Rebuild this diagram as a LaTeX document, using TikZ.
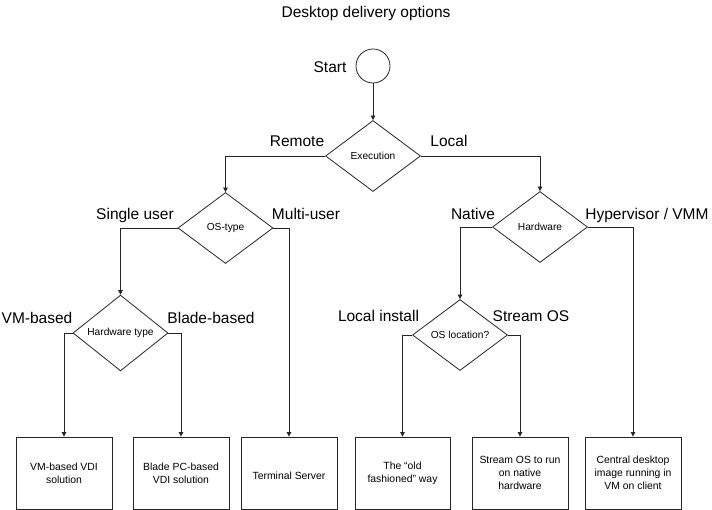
\documentclass[tikz,border=0pt]{standalone}
\usepackage{fontspec}
\setmainfont{Liberation Sans}
\usetikzlibrary{shapes.geometric,arrows.meta}
\begin{document}
\begin{tikzpicture}[x=1pt,y=-1pt,
  line/.style={draw=black!85,line width=0.8pt},
  arr/.style={line,-{Triangle[width=4.5pt,length=4.5pt]}},
  dia/.style={line,diamond,inner sep=0pt,minimum width=95pt,minimum height=71pt,font=\fontsize{10.2}{12}\selectfont},
  box/.style={line,rectangle,minimum width=96pt,minimum height=72pt,inner sep=0pt,align=center,font=\fontsize{10.4}{13}\selectfont},
  lbl/.style={anchor=base,font=\fontsize{15.5}{18}\selectfont,inner sep=0pt}]
\useasboundingbox[fill=white] (0,0) rectangle (712,510);
\node[lbl] (title) at (366,18) {Desktop delivery options};
\node[line,circle,minimum size=34pt,inner sep=0pt] (start) at (373,66) {};
\node[lbl] (startl) at (330,73) {Start};
\node[dia] (exec) at (373,156) {Execution};
\node[dia] (os) at (225.5,228) {OS-type};
\node[dia] (hw) at (540,227) {Hardware};
\node[dia] (hwt) at (120.5,333) {Hardware type};
\node[dia] (osl) at (460,335) {OS location?};
\node[box] (b1) at (64,473) {VM-based VDI\\solution};
\node[box] (b2) at (181,473) {Blade PC-based\\VDI solution};
\node[box] (b3) at (289,473) {\mbox{}\\Terminal Server};
\node[box,minimum width=95pt] (b4) at (402.5,473) {The ``old\\fashioned'' way};
\node[box] (b5) at (520,473) {Stream OS to run\\on native\\hardware};
\node[box] (b6) at (633,473) {Central desktop\\image running in\\VM on client};
\node[lbl] (lremote) at (297,147) {Remote};
\node[lbl] (llocal) at (449,147) {Local};
\node[lbl] (lsingle) at (135,220) {Single user};
\node[lbl] (lmulti) at (306,220) {Multi-user};
\node[lbl] (lnative) at (473,220) {Native};
\node[lbl] (lhyper) at (647,220) {Hypervisor / VMM};
\node[lbl] (lvm) at (37,324) {VM-based};
\node[lbl] (lblade) at (211,324) {Blade-based};
\node[lbl] (llocali) at (378.5,322) {Local install};
\node[lbl] (lstream) at (531,322) {Stream OS};
\draw[arr] (start.south) -- (exec.north);
\draw[arr] (exec.west) -| (os.north);
\draw[arr] (exec.east) -| (hw.north);
\draw[arr] (os.west) -| (hwt.north);
\draw[arr] (os.east) -| (b3.north);
\draw[arr] (hwt.west) -| (b1.north);
\draw[arr] (hwt.east) -| (b2.north);
\draw[arr] (hw.west) -| (osl.north);
\draw[arr] (hw.east) -| (b6.north);
\draw[arr] (osl.west) -| (b4.north);
\draw[arr] (osl.east) -| (b5.north);
\end{tikzpicture}
\end{document}
